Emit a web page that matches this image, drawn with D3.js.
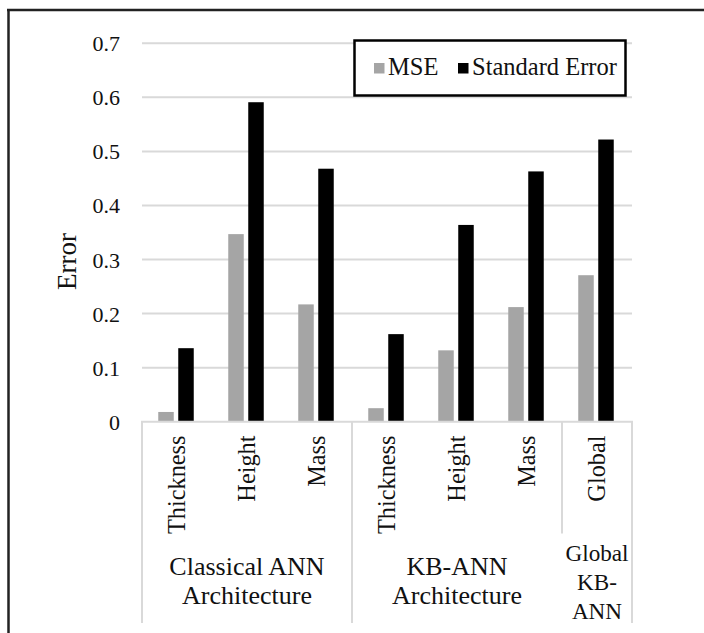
<!DOCTYPE html>
<html>
<head>
<meta charset="utf-8">
<script src="https://cdn.jsdelivr.net/npm/d3@7"></script>
<style>
  html, body { margin: 0; padding: 0; background: #fff; }
  svg { display: block; }
  svg text { font-family: "Liberation Serif", "Tinos", "Times New Roman", Times, "DejaVu Serif", serif !important; fill: #111; }
</style>
</head>
<body>
<svg id="chart" width="704" height="633"></svg>
<script>
// ---- data ----
const categories = ["Thickness", "Height", "Mass", "Thickness", "Height", "Mass", "Global"];
const categoryGroup = [0, 0, 0, 1, 1, 1, 2];
const groupLines = [["Classical ANN", "Architecture"], ["KB-ANN", "Architecture"], ["Global", "KB-", "ANN"]];
const seriesNames = ["MSE", "Standard Error"];
const mseValues = [0.018, 0.347, 0.217, 0.025, 0.132, 0.212, 0.271];
const stdErrValues = [0.136, 0.591, 0.468, 0.162, 0.364, 0.463, 0.522];
const yTicks = [0, 0.1, 0.2, 0.3, 0.4, 0.5, 0.6, 0.7];
const yLabel = "Error";

// ---- layout ----
const W = 704, H = 633;
const FONT = '"Liberation Serif", "Tinos", "Times New Roman", Times, "DejaVu Serif", serif';
const plot = { left: 142, right: 632, top: 43.3, bottom: 421.7 };
const labelBottom = 623;
const groupFontSize = [26, 26, 23.2];
const colors = { "MSE": "#a5a5a5", "Standard Error": "#000000" };
const gridColor = "#d9d9d9";

const svg = d3.select("#chart").attr("font-family", FONT);

// outer frame (cropped: left + top edges visible)
svg.append("line").attr("x1", 8.5).attr("x2", 8.5).attr("y1", 9).attr("y2", H)
  .attr("stroke", "#222").attr("stroke-width", 2.5);
svg.append("line").attr("x1", 7).attr("x2", W).attr("y1", 10).attr("y2", 10)
  .attr("stroke", "#222").attr("stroke-width", 2.5);

const x0 = d3.scaleBand().domain(d3.range(categories.length))
  .range([plot.left, plot.right]).paddingInner(0).paddingOuter(0);
const x1 = d3.scaleBand().domain(seriesNames)
  .range([-1, x0.bandwidth() - 1]).paddingInner(0.225).paddingOuter(0.8625);
const y = d3.scaleLinear().domain([0, 0.7]).range([plot.bottom, plot.top]);

// gridlines
svg.append("g").selectAll("line").data(yTicks.filter(d => d > 0)).join("line")
  .attr("x1", plot.left).attr("x2", plot.right)
  .attr("y1", d => y(d)).attr("y2", d => y(d))
  .attr("stroke", gridColor).attr("stroke-width", 2);

// y axis tick labels
const yAxis = d3.axisLeft(y).tickValues(yTicks).tickSize(0).tickPadding(0)
  .tickFormat(d => d === 0 ? "0" : d.toFixed(1));
const yg = svg.append("g").attr("transform", "translate(120,0)").call(yAxis)
  .attr("font-family", FONT);
yg.select(".domain").remove();
yg.selectAll("text").attr("font-size", 22).attr("fill", "#111").attr("dy", "0.34em");

// y label
svg.append("text").attr("transform", `translate(76,261.5) rotate(-90)`)
  .attr("text-anchor", "middle").attr("font-size", 27).text(yLabel);

// bars
const rows = categories.map((c, i) => ({ i, values: [
  { key: "MSE", v: mseValues[i] }, { key: "Standard Error", v: stdErrValues[i] }] }));
const gBars = svg.append("g");
gBars.selectAll("g").data(rows).join("g")
  .attr("transform", d => `translate(${x0(d.i)},0)`)
  .selectAll("rect").data(d => d.values).join("rect")
  .attr("x", d => x1(d.key)).attr("width", x1.bandwidth())
  .attr("y", d => y(d.v)).attr("height", d => y(0) - y(d.v))
  .attr("fill", d => colors[d.key]);

// axis baseline
svg.append("line").attr("x1", plot.left - 1).attr("x2", plot.right + 1)
  .attr("y1", y(0)).attr("y2", y(0)).attr("stroke", gridColor).attr("stroke-width", 2);

// category labels (rotated)
svg.append("g").selectAll("text").data(categories).join("text")
  .attr("transform", (d, i) => `translate(${x0(i) + x0.bandwidth() / 2 + 8},435.5) rotate(-90)`)
  .attr("text-anchor", "end").attr("font-size", 24.3).text(d => d);

// group separators
const groupStarts = groupLines.map((g, gi) => categoryGroup.indexOf(gi));
const groupEnds = groupLines.map((g, gi) => categoryGroup.lastIndexOf(gi));
const lineH = 29, groupMidY = 581;
const sepX = groupStarts.map(s => x0(s)).concat([x0(groupEnds[groupEnds.length - 1]) + x0.bandwidth()]);
svg.append("g").selectAll("line").data(sepX).join("line")
  .attr("x1", d => d).attr("x2", d => d).attr("y1", y(0))
  .attr("y2", (d, i) => i === groupStarts.length - 1
      ? groupMidY - groupLines[i].length * lineH / 2 - 4 : labelBottom)
  .attr("stroke", gridColor).attr("stroke-width", 2);

// group labels
groupLines.forEach((lines, gi) => {
  const cx = (x0(groupStarts[gi]) + x0(groupEnds[gi]) + x0.bandwidth()) / 2;
  const t = svg.append("text").attr("text-anchor", "middle").attr("font-size", groupFontSize[gi]);
  lines.forEach((ln, li) => {
    t.append("tspan").attr("x", cx)
      .attr("y", groupMidY + (li - (lines.length - 1) / 2) * lineH + 8.5).text(ln);
  });
});

// legend
const lg = svg.append("g");
lg.append("rect").attr("x", 354.5).attr("y", 40.5).attr("width", 271).attr("height", 55)
  .attr("fill", "#fff").attr("stroke", "#000").attr("stroke-width", 2.5);
const legendX = [374, 458];
seriesNames.forEach((s, i) => {
  lg.append("rect").attr("x", legendX[i]).attr("y", 63).attr("width", 10.5).attr("height", 10.5)
    .attr("fill", colors[s]);
  lg.append("text").attr("x", legendX[i] + 14).attr("y", 74.5).attr("font-size", 24.5).text(s);
});
</script>
</body>
</html>
